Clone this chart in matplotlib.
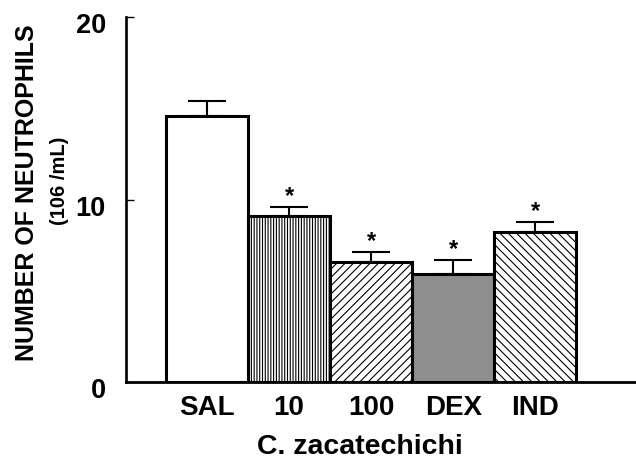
import matplotlib
matplotlib.use("Agg")
import matplotlib.pyplot as plt
import matplotlib.transforms as mtransforms

groups = ["SAL", "10", "100", "DEX", "IND"]
means = [14.6, 9.1, 6.6, 5.9, 8.2]
sems = [0.8, 0.5, 0.55, 0.8, 0.6]
signif = [False, True, True, True, True]

plt.rcParams['font.family'] = ['Liberation Sans', 'DejaVu Sans']
plt.rcParams['font.weight'] = 'bold'
plt.rcParams['hatch.linewidth'] = 0.8


def main():
    fig = plt.figure(figsize=(6.36, 4.61), dpi=100)
    ax = fig.add_axes([0.198, 0.171, 0.802, 0.792])

    x = list(range(len(groups)))
    fills = ['white', 'white', 'white', '#8e8e8e', 'white']
    hatches = [None, '||||||', '////', None, '\\\\\\\\']
    bars = ax.bar(x, means, width=1.0, color=fills, edgecolor='black',
                  linewidth=2.2, zorder=3)
    for b, h in zip(bars, hatches):
        if h:
            b.set_hatch(h)

    ax.errorbar(x, means, yerr=[[0] * len(sems), sems], fmt='none',
                ecolor='black', elinewidth=1.5, capsize=14, capthick=1.5,
                zorder=2)

    for xi, m, s, sig in zip(x, means, sems, signif):
        if sig:
            ax.annotate('*', (xi, m + s), xytext=(0, -1),
                        textcoords='offset points', ha='center', va='bottom',
                        fontsize=17, fontweight='bold')

    ax.set_xlim(-0.99, 5.23)
    ax.set_ylim(0, 20)
    ax.spines['top'].set_visible(False)
    ax.spines['right'].set_visible(False)
    ax.spines['left'].set_linewidth(1.9)
    ax.spines['bottom'].set_linewidth(2.0)

    ax.set_yticks([0, 10, 20])
    ax.set_yticklabels(['0', '10', '20'], fontsize=19.5, fontweight='bold')
    ax.tick_params(axis='y', direction='in', length=6, width=1.0, pad=14.5)
    ax.set_xticks(x)
    ax.set_xticklabels(groups, fontsize=20, fontweight='bold')
    ax.tick_params(axis='x', length=0, pad=9)

    offset = mtransforms.ScaledTranslation(0, -6 / 100, fig.dpi_scale_trans)
    for lab in ax.get_yticklabels():
        lab.set_transform(lab.get_transform() + offset)

    fig.text(0.043, 0.581, 'NUMBER OF NEUTROPHILS', rotation=90,
             ha='center', va='center', fontsize=18, fontweight='bold')
    fig.text(0.094, 0.607, '(106 /mL)', rotation=90,
             ha='center', va='center', fontsize=14.5, fontweight='bold')
    fig.text(0.566, 0.030, 'C. zacatechichi', ha='center', va='center',
             fontsize=20.5, fontweight='bold')

    fig.savefig('out.png', dpi=100)


if __name__ == "__main__":
    main()
